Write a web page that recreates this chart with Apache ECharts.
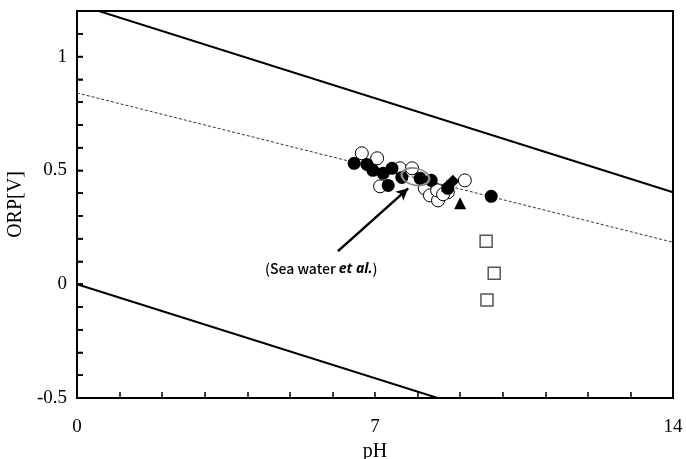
<!DOCTYPE html>
<html><head><meta charset="utf-8">
<script src="https://cdn.jsdelivr.net/npm/echarts@6/dist/echarts.min.js"></script>
<style>html,body{margin:0;padding:0;background:#fff}#c{width:686px;height:459px}</style>
</head><body><div id="c"></div>
<script>
// Data (pH, ORP[V])
const filledCircles = [[6.51,0.531],[6.81,0.526],[6.95,0.500],[7.19,0.487],[7.40,0.509],[7.31,0.434],[7.63,0.469],[8.06,0.465],[8.32,0.456],[8.71,0.421],[9.73,0.386]];
const openCircles = [[6.69,0.575],[7.05,0.553],[7.59,0.509],[7.12,0.430],[7.87,0.509],[8.17,0.421],[8.29,0.390],[8.48,0.368],[8.46,0.412],[8.71,0.404],[9.11,0.456],[8.60,0.395]];
const filledTriangles = [[8.69,0.434],[9.00,0.355]];
const filledDiamonds = [[8.83,0.452]];
const openSquares = [[9.61,0.189],[9.80,0.048],[9.63,-0.070]];
const upperLine = [[0,1.23],[14,0.404]];
const lowerLine = [[0,0],[14,-0.826]];
const dashedLine = [[0,0.84],[14,0.184]];
const seaWaterEllipse = [[7.95,0.472]];
const arrowFrom = [6.13,0.145];
const arrowTo = [7.78,0.421];
const xTickLabels = [0,7,14];
const yTickLabels = [-0.5,0,0.5,1];
const yMinorTicks = [-0.4,-0.3,-0.2,-0.1,0,0.1,0.2,0.3,0.4,0.5,0.6,0.7,0.8,0.9,1.0,1.1];

const chart = echarts.init(document.getElementById('c'));
const serif = '"Liberation Serif","DejaVu Serif",serif';
const lineS = (d, type, w, color) => ({type:'line', data:d, symbol:'none', clip:true, silent:true,
  lineStyle:{color:color, width:w, type:type}, z:1});
chart.setOption({
  animation:false,
  grid:{left:77,right:13,top:11,bottom:61,show:true,borderColor:'#000',borderWidth:2,
    outerBoundsMode:'none'},
  xAxis:{type:'value',min:0,max:14,interval:1,name:'pH',nameLocation:'middle',nameGap:43,
    nameTextStyle:{fontFamily:serif,fontSize:20,color:'#000'},
    axisLine:{show:true,onZero:false,lineStyle:{color:'#000',width:2}},
    axisTick:{show:true,inside:true,length:6,lineStyle:{color:'#000',width:1.5}},
    axisLabel:{margin:20,fontFamily:serif,fontSize:19,color:'#000',
      formatter:v=>xTickLabels.some(t=>Math.abs(t-v)<1e-6)?String(v):''},
    splitLine:{show:false}},
  yAxis:{type:'value',min:-0.5,max:1.2,interval:0.1,name:'ORP[V]',nameLocation:'middle',nameGap:40,
    nameTextStyle:{fontFamily:serif,fontSize:20,color:'#000'},
    axisLine:{show:true,onZero:false,lineStyle:{color:'#000',width:2}},
    axisTick:{show:true,inside:true,length:6,lineStyle:{color:'#000',width:1.5}},
    axisLabel:{margin:10,fontFamily:serif,fontSize:19,color:'#000',
      formatter:v=>{const t=yTickLabels.find(t=>Math.abs(t-v)<1e-6);return t===undefined?'':String(t);}},
    splitLine:{show:false}},
  series:[
    lineS(upperLine,'solid',2,'#000'),
    lineS(lowerLine,'solid',2,'#000'),
    lineS(dashedLine,[3,2],1,'#333'),
    {type:'custom',silent:true,clip:false,z:7,
      data:yMinorTicks.map(v=>[0,v]),
      renderItem:(params,api)=>{
        const p=api.coord([0,api.value(1)]);
        return {type:'line',shape:{x1:p[0],y1:p[1],x2:p[0]+6,y2:p[1]},
          style:{stroke:'#000',lineWidth:1.5}};
      }},
    {type:'scatter',data:openCircles,symbol:'circle',symbolSize:13,
      itemStyle:{color:'#fff',borderColor:'#000',borderWidth:1,opacity:1},z:3},
    {type:'scatter',data:filledCircles,symbol:'circle',symbolSize:13,
      itemStyle:{color:'#000',opacity:1},z:4},
    {type:'scatter',data:filledTriangles,symbol:'triangle',symbolSize:12,
      itemStyle:{color:'#000',opacity:1},z:5},
    {type:'scatter',data:filledDiamonds,symbol:'diamond',symbolSize:13,
      itemStyle:{color:'#000',opacity:1},z:5},
    {type:'scatter',data:openSquares,symbol:'rect',symbolSize:12,
      itemStyle:{color:'#fff',borderColor:'#555',borderWidth:1.5,opacity:1},z:5},
    {type:'scatter',data:seaWaterEllipse,symbol:'circle',symbolSize:[28,17],symbolRotate:-12,
      itemStyle:{color:'rgba(0,0,0,0)',borderColor:'#888',borderWidth:2,opacity:1},z:6,
      markLine:{silent:true,symbol:['none','arrow'],symbolSize:[9,12],
        lineStyle:{color:'#000',width:2.5,type:'solid'},label:{show:false},
        data:[[{coord:arrowFrom},{coord:arrowTo}]]}}
  ],
  graphic:[{type:'text',left:265,top:262,style:{
    text:'{n|(Sea water }{i|et al.}{n|)}',
    rich:{n:{fontFamily:'"Noto Sans CJK JP","Noto Sans",sans-serif',fontSize:14,fontWeight:500,fill:'#000'},
          i:{fontFamily:'"Noto Sans","DejaVu Sans",sans-serif',fontSize:14,fontWeight:'bold',fontStyle:'italic',fill:'#000'}}}}]
});
</script></body></html>
